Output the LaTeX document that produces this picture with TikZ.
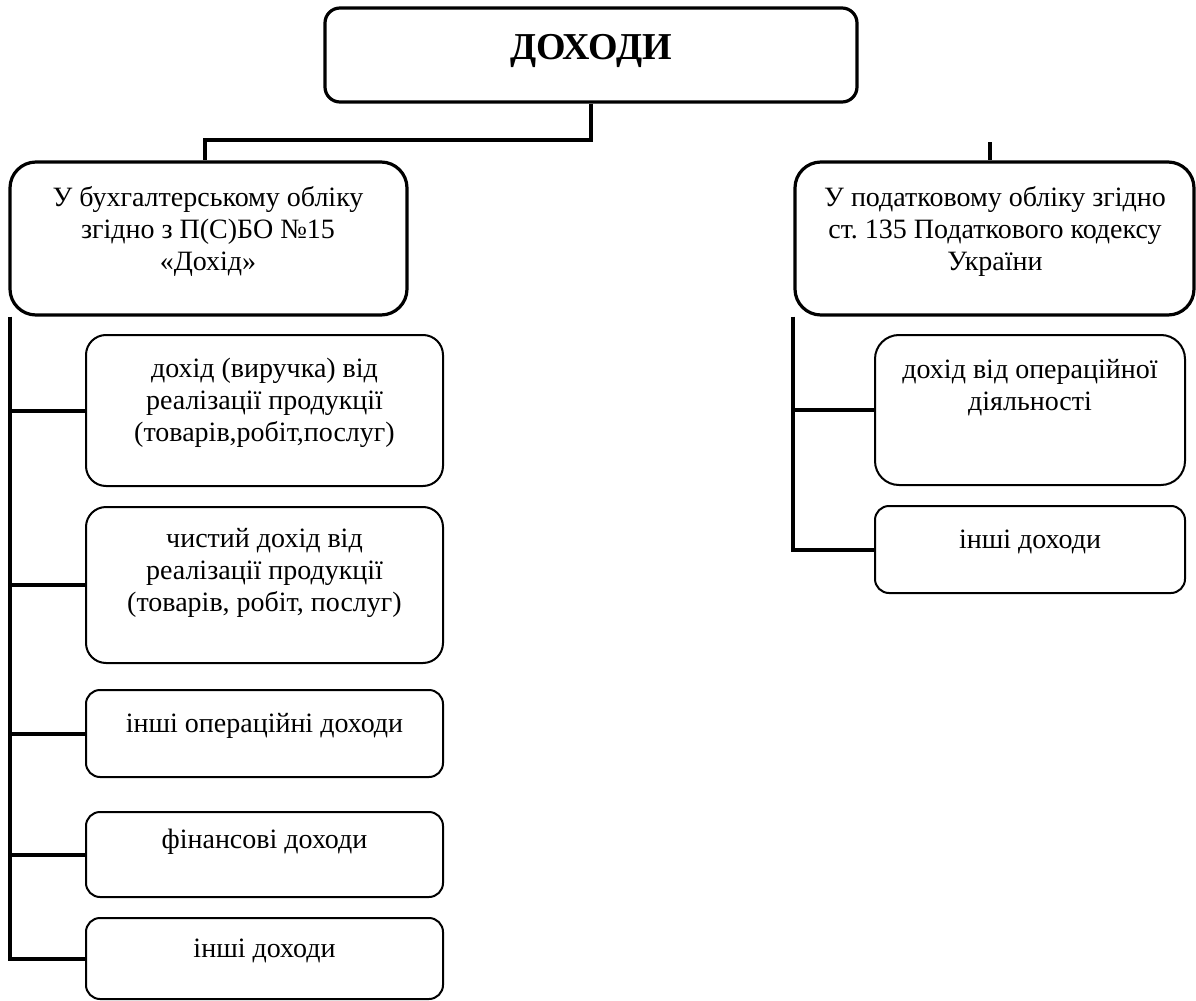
\documentclass[tikz,border=0pt]{standalone}
\usepackage{fontspec}
\setmainfont{Liberation Serif}
\usetikzlibrary{fit}

\tikzset{
  mainbox/.style={draw, line width=1.6pt, inner sep=0pt},
  subbox/.style={draw, line width=1pt, inner sep=0pt},
  txt/.style={align=center, anchor=base, inner sep=0pt, font=\fontsize{14}{16}\selectfont},
  conn/.style={line width=2pt}
}

\begin{document}
\begin{tikzpicture}[x=0.5pt, y=-0.5pt]
  \useasboundingbox (0,0) rectangle (1196,1001);
  % top level (text placed by the baseline of its last line)
  \node[mainbox, rounded corners=7.5pt, fit={(325,8) (857,102)}] (top) {};
  \node[txt, font=\fontsize{19}{21}\selectfont\bfseries] (toptxt) at (591,60) {ДОХОДИ};
  \node[mainbox, rounded corners=13pt, fit={(10,162) (407,315)}] (L1) {};
  \node[txt] (L1txt) at (208,270) {У бухгалтерському обліку\\згідно з П(С)БО №15\\«Дохід»};
  \node[mainbox, rounded corners=13pt, fit={(795,162) (1194,315)}] (R1) {};
  \node[txt] (R1txt) at (995,270) {У податковому обліку згідно\\ст.\ 135 Податкового кодексу\\України};
  % left branch
  \node[subbox, rounded corners=10pt, fit={(86,335) (443,486)}] (c1) {};
  \node[txt] (c1txt) at (264.5,441) {дохід (виручка) від\\реалізації продукції\\(товарів,робіт,послуг)};
  \node[subbox, rounded corners=10pt, fit={(86,507) (443,663)}] (c2) {};
  \node[txt] (c2txt) at (264.5,611) {чистий дохід від\\реалізації продукції\\(товарів, робіт, послуг)};
  \node[subbox, rounded corners=7pt, fit={(86,690) (443,777)}] (c3) {};
  \node[txt] (c3txt) at (264.5,732) {інші операційні доходи};
  \node[subbox, rounded corners=7pt, fit={(86,812) (443,897)}] (c4) {};
  \node[txt] (c4txt) at (264.5,848) {фінансові доходи};
  \node[subbox, rounded corners=7pt, fit={(86,918) (443,999)}] (c5) {};
  \node[txt] (c5txt) at (264.5,957) {інші доходи};
  % right branch
  \node[subbox, rounded corners=12pt, fit={(875,335) (1185,485)}] (r1) {};
  \node[txt] (r1txt) at (1030,410) {дохід від операційної\\діяльності};
  \node[subbox, rounded corners=7pt, fit={(875,506) (1185,593)}] (r2) {};
  \node[txt] (r2txt) at (1030,548) {інші доходи};
  % connectors
  \coordinate (lj) at (205,140);
  \coordinate (rstub) at (990,142);
  \coordinate (lbus) at ([xshift=1pt]L1.south west);
  \coordinate (rbus) at (R1.south west);
  \draw[conn] (top.south) |- (lj) -- (lj |- L1.north);
  \draw[conn] (rstub) -- (rstub |- R1.north);
  \draw[conn] (lbus) |- (c5.west);
  \draw[conn] (lbus |- c1.west) -- (c1.west);
  \draw[conn] (lbus |- c2.west) -- (c2.west);
  \draw[conn] (lbus |- c3.west) -- (c3.west);
  \draw[conn] (lbus |- c4.west) -- (c4.west);
  \draw[conn] (rbus) |- (r2.west);
  \draw[conn] (rbus |- r1.west) -- (r1.west);
\end{tikzpicture}
\end{document}
